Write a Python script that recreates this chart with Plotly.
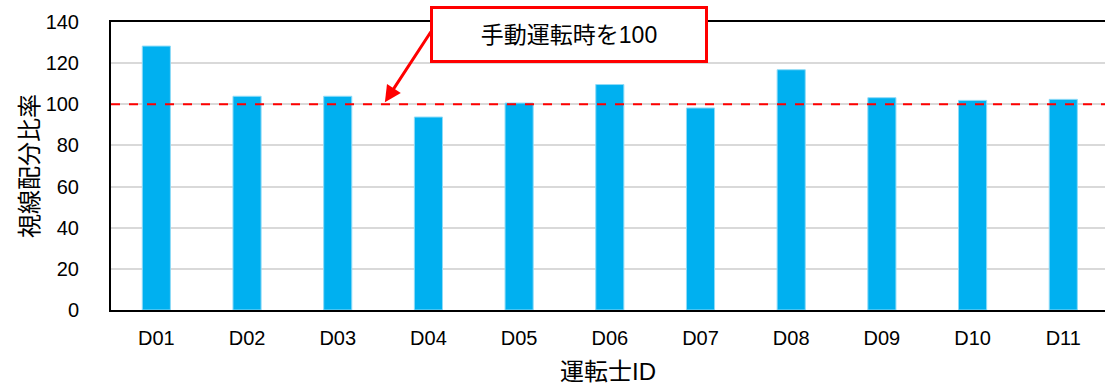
import plotly.graph_objects as go

drivers = ["D01", "D02", "D03", "D04", "D05", "D06", "D07", "D08", "D09", "D10", "D11"]
ratios = [128.3, 103.9, 103.9, 93.8, 100.6, 109.6, 98.2, 116.8, 103.2, 101.9, 102.4]
reference_value = 100
y_ticks = [0, 20, 40, 60, 80, 100, 120, 140]

font_mix = "Liberation Sans, Noto Sans CJK JP"

fig = go.Figure()
fig.add_trace(go.Bar(
    x=list(range(len(drivers))), y=ratios,
    marker=dict(color="#00B0F0", line=dict(color="#8FDBF7", width=1)),
    width=0.31,
))

fig.add_hline(y=reference_value, line=dict(color="#FF0000", width=2, dash="dash"))

# arrow
fig.add_annotation(
    x=2.52, y=reference_value + 1, xref="x", yref="y",
    text="", showarrow=True, ax=47, ay=-72,
    arrowhead=2, arrowsize=1.1, arrowwidth=3, arrowcolor="#FF0000",
)
# label box
fig.add_annotation(
    x=4.55, y=133.7, xref="x", yref="y",
    text="手動運転時を100", showarrow=False,
    font=dict(family=font_mix, size=23, color="#000000"),
    bgcolor="#FFFFFF", bordercolor="#FF0000", borderwidth=3, borderpad=1,
    width=270, height=49, align="center", valign="middle",
)

fig.update_layout(
    width=1105, height=389,
    margin=dict(l=111, r=0, t=22, b=79),
    plot_bgcolor="#FFFFFF", paper_bgcolor="#FFFFFF",
    showlegend=False,
    font=dict(family=font_mix, color="#000000"),
)
fig.update_xaxes(
    range=[-0.5, 10.46],
    tickmode="array", tickvals=list(range(len(drivers))), ticktext=drivers,
    tickfont=dict(family=font_mix, size=20),
    showline=True, linecolor="#000000", linewidth=2, mirror=True,
    showgrid=False, ticks="", ticklabelstandoff=9,
    title=dict(text="運転士ID", font=dict(family=font_mix, size=24), standoff=15),
)
fig.update_yaxes(
    range=[0, 140], tickvals=y_ticks,
    tickfont=dict(family=font_mix, size=20),
    showline=True, linecolor="#000000", linewidth=2,
    showgrid=True, gridcolor="#D9D9D9", gridwidth=1.5,
    zeroline=False, ticks="", ticklabelstandoff=26,
    title=dict(text="視線配分比率", font=dict(family=font_mix, size=24), standoff=0),
)

fig.write_html("out.html")
